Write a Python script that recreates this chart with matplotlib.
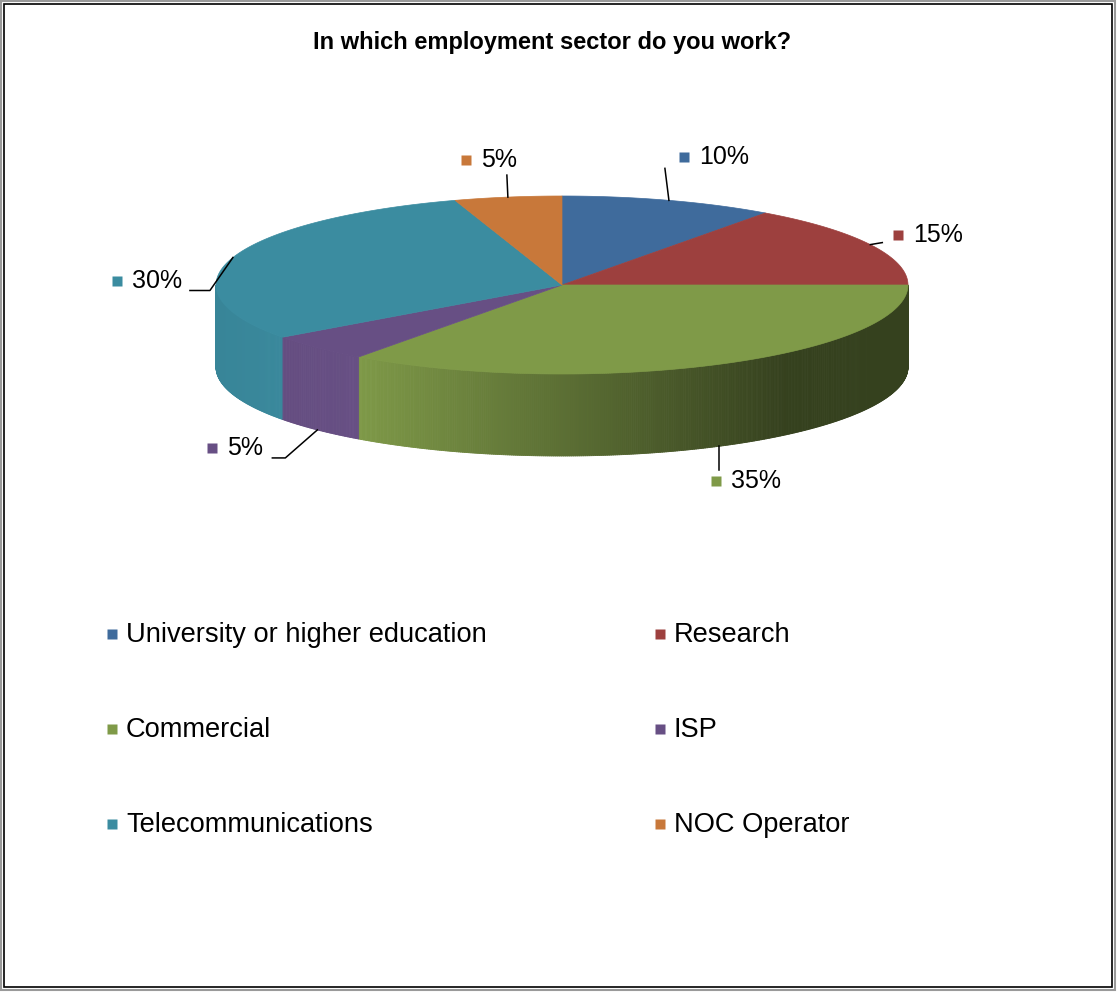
import numpy as np
import matplotlib
matplotlib.use("Agg")
import matplotlib.pyplot as plt
from matplotlib.patches import Polygon, Rectangle
from matplotlib.collections import PolyCollection
from matplotlib.colors import to_rgb

# survey answers (percent)
sectors = ["University or higher education", "Research", "Commercial",
           "ISP", "Telecommunications", "NOC Operator"]
shares = [10, 15, 35, 5, 30, 5]
colors = ["#3F6B9C", "#9D403E", "#7F9A48", "#674F84", "#3B8CA0", "#C8783A"]
title = "In which employment sector do you work?"

plt.rcParams["font.family"] = ["Liberation Sans", "DejaVu Sans"]

W, H = 1117, 992
fig = plt.figure(figsize=(W / 100, H / 100), dpi=100)
ax = fig.add_axes([0, 0, 1, 1])
ax.set_xlim(0, W)
ax.set_ylim(H, 0)
ax.axis("off")

# pie geometry in pixels
cx, cy = 562, 285
rx, ry = 346, 89
depth = 82


def ellipse_pt(t, drop=0):
    r = np.radians(t)
    return cx + rx * np.cos(r), cy - ry * np.sin(r) + drop


def shade(u):
    # side face gets darker towards the right
    return np.interp(u, [-1.0, -0.6, 0.65, 1.0], [0.95, 1.0, 0.42, 0.42])


# slice angle ranges, clockwise from 12 o'clock
ends = 90 - np.cumsum(shares) * 3.6
starts = np.concatenate([[90], ends[:-1]])

# front side walls
for a_hi, a_lo, col in zip(starts, ends, colors):
    base = np.array(to_rgb(col))
    for f_lo, f_hi in [(-180, 0), (-540, -360)]:
        lo, hi = max(a_lo, f_lo), min(a_hi, f_hi)
        if hi <= lo:
            continue
        ts = np.linspace(lo, hi, int((hi - lo) * 3) + 2)
        quads, fcs = [], []
        for t0, t1 in zip(ts[:-1], ts[1:]):
            p0, p1 = ellipse_pt(t0), ellipse_pt(t1)
            q0, q1 = ellipse_pt(t0, depth), ellipse_pt(t1, depth)
            quads.append([p0, p1, q1, q0])
            u = np.cos(np.radians((t0 + t1) / 2))
            fcs.append(np.clip(base * shade(u), 0, 1))
        ax.add_collection(PolyCollection(quads, facecolors=fcs, edgecolors=fcs,
                                         linewidths=0.6))

# top faces
for a_hi, a_lo, col in zip(starts, ends, colors):
    ts = np.linspace(a_hi, a_lo, 200)
    pts = [(cx, cy)] + [ellipse_pt(t) for t in ts]
    ax.add_patch(Polygon(pts, closed=True, facecolor=col, edgecolor=col, lw=0.5))

# data labels: offset of the label square from the slice anchor, leader path
label_layout = [
    ((15, -43), [(-4, -32)]),
    ((28, -10), [(12, -2)]),
    ((-3, 35), [(0, 24)]),
    ((-105, 18), [(-32, 28), (-45, 28)]),
    ((-116, 24), [(-23, 33), (-43, 33)]),
    ((-42, -37), [(-1, -22)]),
]
for a_hi, a_lo, val, col, (off, path) in zip(starts, ends, shares, colors, label_layout):
    mid = (a_hi + a_lo) / 2
    front = np.sin(np.radians(mid)) < -0.5
    ax0, ay0 = ellipse_pt(mid, depth if front else 0)
    xs = [ax0] + [ax0 + dx for dx, dy in path]
    ys = [ay0] + [ay0 + dy for dx, dy in path]
    ax.plot(xs, ys, color="black", lw=1.1)
    sx, sy = ax0 + off[0], ay0 + off[1]
    ax.plot(sx, sy, marker="s", ms=7, color=col, mec="none")
    ax.text(sx + 15, sy, f"{val}%", fontsize=18, va="center", ha="left")

# title
ax.text(552, 43, title, fontsize=17, fontweight="bold", ha="center", va="center")

# legend, two columns
leg_x = [112, 660]
leg_y = [634, 729, 824]
for i, (name, col) in enumerate(zip(sectors, colors)):
    lx, ly = leg_x[i % 2], leg_y[i // 2]
    ax.plot(lx, ly, marker="s", ms=7, color=col, mec="none")
    ax.text(lx + 14, ly + 1, name, fontsize=19.6, va="center", ha="left")

# chart border
ax.add_patch(Rectangle((1, 1), W - 3, H - 3, fill=False, ec="#9A9A9A", lw=1.5))
ax.add_patch(Rectangle((4, 4), W - 9, H - 9, fill=False, ec="black", lw=1.2))

fig.savefig("out.png", dpi=100)
